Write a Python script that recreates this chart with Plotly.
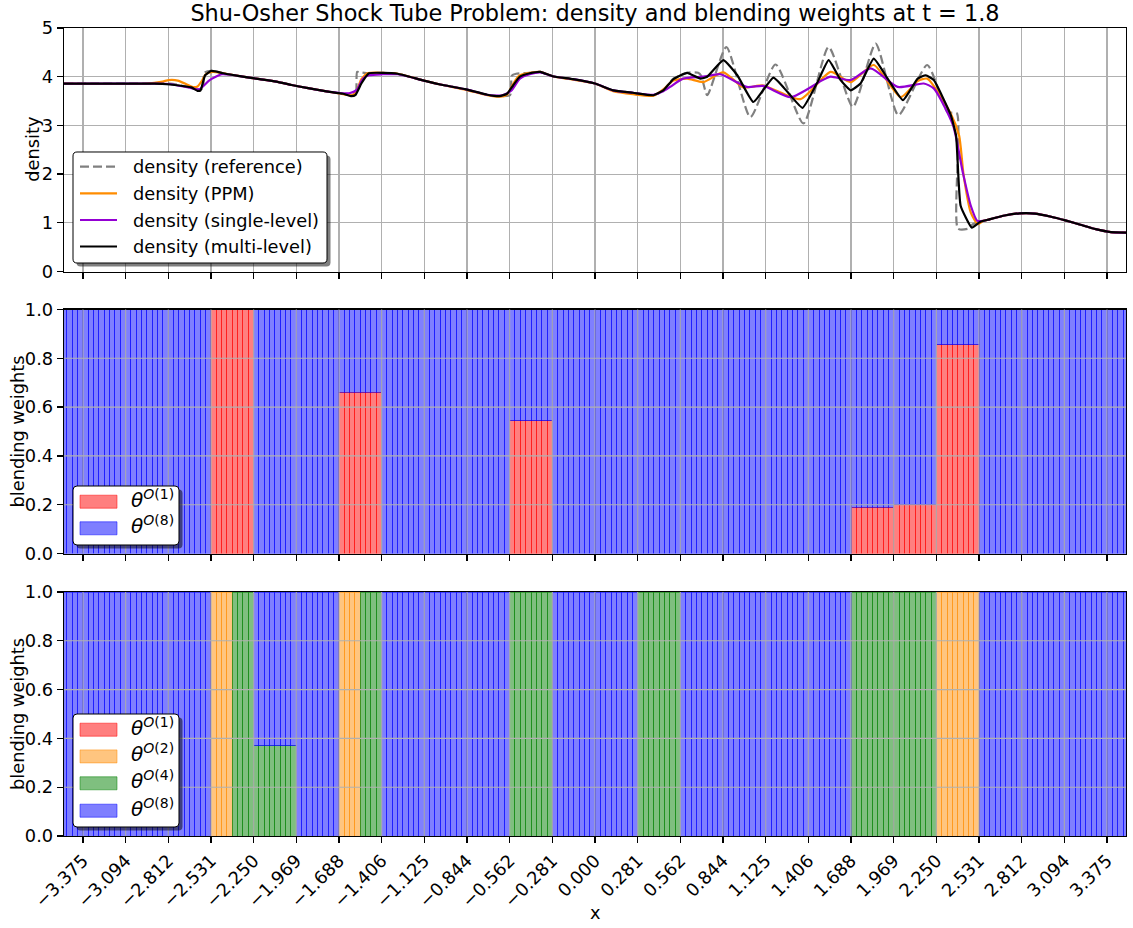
import numpy as np
import plotly.graph_objects as go

# ---------------- data ----------------
# density curves (x, rho)
ref_x = [-3.5, -2.9, -2.8, -2.7, -2.62, -2.585, -2.575, -2.53, -2.45, -2.3, -2.21, -2.1, -2.0, -1.9, -1.77,
         -1.66, -1.58, -1.568, -1.55, -1.49, -1.4, -1.3, -1.14, -1.02, -0.85, -0.71, -0.63, -0.56, -0.548,
         -0.52, -0.43, -0.36, -0.28, -0.145, 0.0, 0.12, 0.25, 0.385, 0.45, 0.517, 0.607, 0.68, 0.70, 0.74,
         0.866, 1.024, 1.19, 1.374, 1.54, 1.70, 1.85, 2.0, 2.19, 2.325, 2.385, 2.392, 2.46, 2.49, 2.54,
         2.6, 2.7, 2.8, 2.9, 3.0, 3.1, 3.2, 3.3, 3.4, 3.5]
ref_y = [3.857, 3.857, 3.86, 3.80, 3.74, 3.76, 4.08, 4.12, 4.07, 3.99, 3.95, 3.90, 3.83, 3.77, 3.70,
         3.65, 3.62, 4.10, 4.09, 4.07, 4.08, 4.06, 3.93, 3.84, 3.74, 3.63, 3.60, 3.62, 4.02,
         4.06, 4.08, 4.10, 4.01, 3.95, 3.86, 3.72, 3.67, 3.62, 3.72, 3.96, 4.08, 4.08, 4.02, 3.62,
         4.61, 3.17, 4.25, 3.04, 4.61, 3.38, 4.68, 3.21, 4.24, 3.27, 3.25, 0.88, 0.88, 0.97, 1.02,
         1.07, 1.15, 1.195, 1.19, 1.13, 1.05, 0.96, 0.87, 0.81, 0.80]

ppm_x = [-3.5, -2.95, -2.85, -2.81, -2.75, -2.69, -2.656, -2.62, -2.59, -2.566, -2.52, -2.45, -2.3, -2.21,
         -2.1, -2.0, -1.9, -1.77, -1.66, -1.60, -1.57, -1.54, -1.50, -1.4, -1.3, -1.14, -1.02, -0.85, -0.71,
         -0.62, -0.58, -0.54, -0.50, -0.43, -0.36, -0.28, -0.145, 0.0, 0.12, 0.25, 0.385, 0.45, 0.517,
         0.607, 0.714, 0.846, 0.978, 1.11, 1.354, 1.553, 1.685, 1.837, 2.015, 2.127, 2.19, 2.345, 2.40,
         2.43, 2.477, 2.524, 2.56, 2.6, 2.7, 2.8, 2.9, 3.0, 3.1, 3.2, 3.3, 3.4, 3.5]
ppm_y = [3.857, 3.857, 3.90, 3.93, 3.92, 3.84, 3.79, 3.80, 3.92, 4.05, 4.10, 4.07, 3.99, 3.95,
         3.90, 3.83, 3.77, 3.70, 3.64, 3.62, 3.72, 3.95, 4.07, 4.08, 4.06, 3.93, 3.84, 3.73, 3.62,
         3.59, 3.63, 3.85, 4.02, 4.08, 4.10, 4.01, 3.94, 3.86, 3.70, 3.64, 3.61, 3.74, 3.92,
         3.96, 3.89, 4.09, 3.78, 3.82, 3.54, 4.10, 3.89, 4.24, 3.58, 3.91, 3.96, 3.24, 2.79,
         1.97, 1.21, 0.97, 1.04, 1.07, 1.15, 1.195, 1.19, 1.13, 1.05, 0.96, 0.87, 0.81, 0.80]

single_x = [-3.5, -2.9, -2.81, -2.68, -2.61, -2.54, -2.46, -2.4, -2.3, -2.21, -2.1, -2.0, -1.9, -1.77,
            -1.66, -1.62, -1.57, -1.53, -1.49, -1.4, -1.3, -1.14, -1.02, -0.85, -0.71, -0.61, -0.55,
            -0.495, -0.43, -0.36, -0.28, -0.145, 0.0, 0.12, 0.25, 0.385, 0.45, 0.495, 0.58, 0.714,
            0.826, 1.0, 1.11, 1.29, 1.50, 1.553, 1.685, 1.817, 1.995, 2.167, 2.233, 2.36, 2.424,
            2.477, 2.52, 2.56, 2.6, 2.7, 2.8, 2.9, 3.0, 3.1, 3.2, 3.3, 3.4, 3.5]
single_y = [3.857, 3.857, 3.85, 3.78, 3.74, 3.93, 4.05, 4.04, 3.99, 3.95, 3.90, 3.83, 3.77, 3.70,
            3.66, 3.66, 3.73, 3.96, 4.03, 4.05, 4.05, 3.93, 3.84, 3.74, 3.63, 3.62, 3.72,
            3.96, 4.05, 4.09, 4.01, 3.95, 3.86, 3.72, 3.67, 3.63, 3.70, 3.79, 3.96, 4.0,
            4.05, 3.79, 3.81, 3.58, 3.93, 4.0, 3.93, 4.17, 3.79, 3.86, 3.76, 3.0, 2.04,
            1.35, 1.04, 1.04, 1.07, 1.15, 1.195, 1.19, 1.13, 1.05, 0.96, 0.87, 0.81, 0.80]

multi_x = [-3.5, -2.9, -2.8, -2.74, -2.66, -2.62, -2.6, -2.57, -2.53, -2.5, -2.45, -2.3, -2.21, -2.1,
           -2.0, -1.9, -1.77, -1.66, -1.61, -1.58, -1.54, -1.49, -1.4, -1.3, -1.14, -1.02, -0.85, -0.71,
           -0.63, -0.58, -0.54, -0.495, -0.43, -0.36, -0.28, -0.145, 0.0, 0.12, 0.25, 0.385, 0.45,
           0.517, 0.607, 0.694, 0.74, 0.846, 0.938, 1.044, 1.176, 1.268, 1.368, 1.467, 1.54, 1.619,
           1.685, 1.75, 1.837, 1.929, 2.03, 2.127, 2.18, 2.233, 2.345, 2.38, 2.41, 2.484, 2.54,
           2.6, 2.7, 2.8, 2.9, 3.0, 3.1, 3.2, 3.3, 3.4, 3.5]
multi_y = [3.857, 3.857, 3.84, 3.82, 3.78, 3.71, 3.72, 4.03, 4.12, 4.11, 4.07, 3.99, 3.95, 3.90,
           3.83, 3.77, 3.70, 3.65, 3.60, 3.62, 3.86, 4.07, 4.08, 4.06, 3.93, 3.84, 3.74, 3.63,
           3.60, 3.65, 3.82, 4.0, 4.07, 4.10, 4.01, 3.95, 3.86, 3.72, 3.67, 3.62, 3.72,
           3.95, 4.08, 3.96, 4.0, 4.34, 4.03, 3.48, 3.98, 3.69, 3.36, 3.89, 4.34, 3.93,
           3.72, 3.86, 4.37, 3.96, 3.52, 3.96, 4.03, 3.93, 3.21, 2.79, 1.35, 0.90, 1.02,
           1.07, 1.15, 1.195, 1.19, 1.13, 1.05, 0.96, 0.87, 0.81, 0.80]

# grid: 256 cells on [-4.5, 4.5]
domain_lo, domain_hi, n_cells = -4.5, 4.5, 256

# middle panel: weights per block of 8 cells (32 blocks)
mid_theta1 = [0, 0, 0, 0, 0, 0, 0, 1.0, 0, 0, 0.66, 0, 0, 0, 0.545, 0,
              0, 0, 0, 0, 0, 0, 0.19, 0.20, 0.855, 0, 0, 0, 0, 0, 0, 0]
mid_theta8 = [1, 1, 1, 1, 1, 1, 1, 0.0, 1, 1, 0.34, 1, 1, 1, 0.455, 1,
              1, 1, 1, 1, 1, 1, 0.81, 0.80, 0.145, 1, 1, 1, 1, 1, 1, 1]

# bottom panel: weights per block of 4 cells (64 blocks)
bot_theta1 = [0] * 64
bot_theta2 = [0, 0, 0, 0, 0, 0, 0, 0, 0, 0, 0, 0, 0, 0, 1, 0,
              0, 0, 0, 0, 1, 0, 0, 0, 0, 0, 0, 0, 0, 0, 0, 0,
              0, 0, 0, 0, 0, 0, 0, 0, 0, 0, 0, 0, 0, 0, 0, 0,
              1, 1, 0, 0, 0, 0, 0, 0, 0, 0, 0, 0, 0, 0, 0, 0]
bot_theta4 = [0, 0, 0, 0, 0, 0, 0, 0, 0, 0, 0, 0, 0, 0, 0, 1,
              0.37, 0.37, 0, 0, 0, 1, 0, 0, 0, 0, 0, 0, 1, 1, 0, 0,
              0, 0, 1, 1, 0, 0, 0, 0, 0, 0, 0, 0, 1, 1, 1, 1,
              0, 0, 0, 0, 0, 0, 0, 0, 0, 0, 0, 0, 0, 0, 0, 0]
bot_theta8 = [1, 1, 1, 1, 1, 1, 1, 1, 1, 1, 1, 1, 1, 1, 0, 0,
              0.63, 0.63, 1, 1, 0, 0, 1, 1, 1, 1, 1, 1, 0, 0, 1, 1,
              1, 1, 0, 0, 1, 1, 1, 1, 1, 1, 1, 1, 0, 0, 0, 0,
              0, 0, 1, 1, 1, 1, 1, 1, 1, 1, 1, 1, 1, 1, 1, 1]

tick_vals = [-3.375, -3.09375, -2.8125, -2.53125, -2.25, -1.96875, -1.6875, -1.40625, -1.125,
             -0.84375, -0.5625, -0.28125, 0.0, 0.28125, 0.5625, 0.84375, 1.125, 1.40625, 1.6875,
             1.96875, 2.25, 2.53125, 2.8125, 3.09375, 3.375]
tick_text = ["−3.375", "−3.094", "−2.812", "−2.531", "−2.250", "−1.969", "−1.688", "−1.406", "−1.125",
             "−0.844", "−0.562", "−0.281", "0.000", "0.281", "0.562", "0.844", "1.125", "1.406", "1.688",
             "1.969", "2.250", "2.531", "2.812", "3.094", "3.375"]
weight_ticks = [0.0, 0.2, 0.4, 0.6, 0.8, 1.0]
density_ticks = [0, 1, 2, 3, 4, 5]

line_names = ["density (reference)", "density (PPM)", "density (single-level)", "density (multi-level)"]
mid_names = ["<i>θ</i><sup><i>O</i>(1)</sup>", "<i>θ</i><sup><i>O</i>(8)</sup>"]
bot_names = ["<i>θ</i><sup><i>O</i>(1)</sup>", "<i>θ</i><sup><i>O</i>(2)</sup>",
             "<i>θ</i><sup><i>O</i>(4)</sup>", "<i>θ</i><sup><i>O</i>(8)</sup>"]

# ---------------- figure ----------------
FONT = "DejaVu Sans"
FS = 17.8
W, HT = 1133, 928
L, R, T, B = 64, 1133 - 1126, 28, 928 - 836
PW, PH = W - L - R, HT - T - B

dx = (domain_hi - domain_lo) / n_cells
xc = domain_lo + dx * (np.arange(n_cells) + 0.5)


def cells(block_vals):
    v = np.repeat(np.asarray(block_vals, dtype=float), n_cells // len(block_vals))
    return [None if a == 0 else a for a in v]


def px(xp, yp):
    return (xp - L) / PW, (HT - B - yp) / PH


fig = go.Figure()

lw = 2.2
line_styles = [dict(color="grey", width=lw, dash="9px,4px"),
               dict(color="darkorange", width=lw),
               dict(color="darkviolet", width=lw),
               dict(color="black", width=lw)]
for (xs, ys), name, st, sm in zip([(ref_x, ref_y), (ppm_x, ppm_y), (single_x, single_y), (multi_x, multi_y)],
                                  line_names, line_styles, [0.6, 0.6, 0.6, 0.4]):
    fig.add_trace(go.Scatter(x=xs, y=ys, mode="lines", name=name, showlegend=False,
                             line=dict(st, shape="spline", smoothing=sm), xaxis="x", yaxis="y",
                             hoverinfo="skip"))

cols = {"1": (255, 0, 0), "2": (255, 140, 0), "4": (0, 128, 0), "8": (0, 0, 255)}


def rgba(key, a=0.5):
    r, g, b = cols[key]
    return f"rgba({r},{g},{b},{a})"


def bar(vals, key, ax):
    return go.Bar(x=xc, y=cells(vals), width=dx, showlegend=False,
                  marker=dict(color=rgba(key), line=dict(color=rgba(key), width=1)),
                  xaxis="x" + ax, yaxis="y" + ax, hoverinfo="skip")


fig.add_trace(bar(mid_theta1, "1", "2"))
fig.add_trace(bar(mid_theta8, "8", "2"))
fig.add_trace(bar(bot_theta1, "1", "3"))
fig.add_trace(bar(bot_theta2, "2", "3"))
fig.add_trace(bar(bot_theta4, "4", "3"))
fig.add_trace(bar(bot_theta8, "8", "3"))

shapes = []
annotations = []

# grid drawn above the bars (as in the reference)
GRID = "#b0b0b0"
for ax in ["2", "3"]:
    for yv in weight_ticks[1:-1]:
        shapes.append(dict(type="line", xref="x" + ax + " domain", yref="y" + ax, x0=0, x1=1, y0=yv, y1=yv,
                           line=dict(color=GRID, width=1.1), layer="above"))
    for xv in tick_vals:
        shapes.append(dict(type="line", xref="x" + ax, yref="y" + ax + " domain", x0=xv, x1=xv, y0=0, y1=1,
                           line=dict(color=GRID, width=1.1), layer="above"))


def rrect_path(x0, y0, x1, y1, r=4):
    def P(a, b):
        u, v = px(a, b)
        return f"{u:.6f},{v:.6f}"
    return (f"M{P(x0 + r, y0)} L{P(x1 - r, y0)} Q{P(x1, y0)} {P(x1, y0 + r)} "
            f"L{P(x1, y1 - r)} Q{P(x1, y1)} {P(x1 - r, y1)} L{P(x0 + r, y1)} "
            f"Q{P(x0, y1)} {P(x0, y1 - r)} L{P(x0, y0 + r)} Q{P(x0, y0)} {P(x0 + r, y0)} Z")


def legend_box(x0, y0, x1, y1):
    shapes.append(dict(type="path", xref="paper", yref="paper", path=rrect_path(x0 + 3.5, y0 + 3.5, x1 + 3.5, y1 + 3.5),
                       fillcolor="rgba(0,0,0,0.5)", line=dict(width=0), layer="above"))
    shapes.append(dict(type="path", xref="paper", yref="paper", path=rrect_path(x0, y0, x1, y1),
                       fillcolor="white", line=dict(color="black", width=1), layer="above"))


def text_at(x, y, text, size, xanchor="left", angle=0):
    u, v = px(x, y)
    annotations.append(dict(xref="paper", yref="paper", x=u, y=v, xanchor=xanchor, yanchor="middle",
                            text=text, showarrow=False, textangle=angle,
                            font=dict(family=FONT, size=size, color="black")))


# top legend
legend_box(73, 152, 327, 263)
for name, st, yy in zip(line_names, line_styles, [166.7, 193.3, 220.0, 246.5]):
    u0, v = px(80, yy)
    u1, _ = px(117, yy)
    shapes.append(dict(type="line", xref="paper", yref="paper", x0=u0, x1=u1, y0=v, y1=v,
                       line=dict(color=st["color"], width=lw, dash=st.get("dash", "solid")), layer="above"))
    text_at(131, yy, name, FS)


def patch_entries(keys, names, ys):
    for key, name, yy in zip(keys, names, ys):
        u0, v0 = px(80, yy - 6.5)
        u1, v1 = px(117, yy + 6.5)
        shapes.append(dict(type="rect", xref="paper", yref="paper", x0=u0, x1=u1, y0=v1, y1=v0,
                           fillcolor=rgba(key), line=dict(color=rgba(key), width=1), layer="above"))
        text_at(129, yy - 3, name, 20)


legend_box(73, 486, 179, 545)
patch_entries(["1", "8"], mid_names, [501.7, 528.3])
legend_box(73, 714, 179, 827)
patch_entries(["1", "2", "4", "8"], bot_names, [729.7, 756.4, 783.3, 810.7])

# axis labels
text_at(595, 912, "x", FS, xanchor="center")
text_at(33, (28 + 271.5) / 2, "density", FS, xanchor="center", angle=-90)
text_at(17, (309.5 + 553.5) / 2, "blending weights", FS, xanchor="center", angle=-90)
text_at(17, (592 + 836) / 2, "blending weights", FS, xanchor="center", angle=-90)

axcommon = dict(showline=True, linecolor="black", linewidth=1.3, mirror=True, ticks="outside",
                ticklen=6, tickwidth=1.3, tickcolor="black", showgrid=True, gridcolor=GRID,
                gridwidth=1.1, zeroline=False, automargin=False,
                tickfont=dict(family=FONT, size=FS, color="black"))


def dom(top_px, bot_px):
    return [(HT - B - bot_px) / PH, (HT - B - top_px) / PH]


xax = dict(axcommon, range=[-3.5, 3.5], tickmode="array", tickvals=tick_vals, ticktext=tick_text)
fig.update_layout(
    width=W, height=HT,
    margin=dict(l=L, r=R, t=T, b=B),
    paper_bgcolor="white", plot_bgcolor="white",
    font=dict(family=FONT, color="black", size=FS),
    barmode="stack", bargap=0, showlegend=False,
    title=dict(text="Shu-Osher Shock Tube Problem: density and blending weights at t = 1.8",
               x=(L + 1126) / 2 / W, xanchor="center", y=1 - 13 / HT, yanchor="middle",
               font=dict(family=FONT, size=22.4, color="black")),
    xaxis=dict(xax, domain=[0, 1], anchor="y", showticklabels=False),
    xaxis2=dict(xax, domain=[0, 1], anchor="y2", matches="x", showticklabels=False, showgrid=False),
    xaxis3=dict(xax, domain=[0, 1], anchor="y3", matches="x", tickangle=-45, showgrid=False),
    yaxis=dict(axcommon, domain=dom(28, 271.5), range=[0, 5], tickmode="array", tickvals=density_ticks),
    yaxis2=dict(axcommon, domain=dom(309.5, 553.5), range=[0, 1], tickmode="array", tickvals=weight_ticks,
                tickformat=".1f", showgrid=False),
    yaxis3=dict(axcommon, domain=dom(592, 836), range=[0, 1], tickmode="array", tickvals=weight_ticks,
                tickformat=".1f", showgrid=False),
    shapes=shapes,
    annotations=annotations,
)

fig.write_html("out.html", config={"displayModeBar": False, "staticPlot": True},
               post_script="document.body.style.margin='0';document.body.style.overflow='hidden';")
